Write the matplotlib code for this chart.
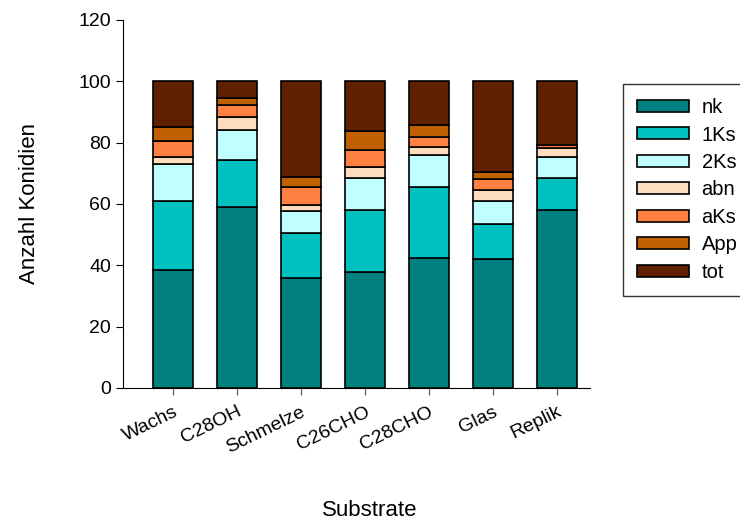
import matplotlib
matplotlib.use("Agg")
import matplotlib.pyplot as plt
import numpy as np

plt.rcParams['font.family'] = ['Liberation Sans', 'DejaVu Sans']

categories = ["Wachs", "C28OH", "Schmelze", "C26CHO", "C28CHO", "Glas", "Replik"]
series_names = ["nk", "1Ks", "2Ks", "abn", "aKs", "App", "tot"]
nk  = [38.6, 58.9, 35.9, 37.7, 42.5, 42.2, 57.9]
k1  = [22.5, 15.3, 14.8, 20.5, 22.9, 11.4, 10.5]
k2  = [11.8,  9.8,  7.0, 10.3, 10.7,  7.3,  6.9]
abn = [ 2.4,  4.4,  2.0,  3.6,  2.4,  3.8,  3.1]
aks = [ 5.4,  3.8,  6.0,  5.4,  3.2,  3.3,  0.7]
app = [ 4.4,  2.5,  3.0,  6.4,  4.0,  2.3,  0.3]
tot = [14.9,  5.3, 31.3, 16.1, 14.3, 29.7, 20.6]
colors = ["#008080", "#00C0C0", "#C0FFFF", "#FFDEC0", "#FF8040", "#C06000", "#602000"]

series = [nk, k1, k2, abn, aks, app, tot]

fig = plt.figure(figsize=(7.4, 5.2), dpi=100)
ax = fig.add_axes([123/740, 132/520, (590-123)/740, (388-20)/520])

x = np.arange(len(categories))
bottom = np.zeros(len(categories))
for name, vals, c in zip(series_names, series, colors):
    ax.bar(x, vals, width=0.62, bottom=bottom, color=c, edgecolor="black",
           linewidth=1.2, label=name)
    bottom += np.array(vals)

ax.set_xlim(-0.78, 6.52)
ax.set_ylim(0, 120)
ax.set_yticks(np.arange(0, 121, 20))
ax.set_xticks(x)
ax.set_xticklabels(categories, rotation=26, ha="right", rotation_mode="anchor", fontsize=14)
ax.tick_params(axis="y", labelsize=14, direction="out", length=5)
ax.tick_params(axis="x", direction="out", length=5, color="#555555", pad=6)
for s in ["top", "right"]:
    ax.spines[s].set_visible(False)
ax.set_ylabel("Anzahl Konidien", fontsize=16, labelpad=28)
fig.text(0.5, 1 - 510/520, "Substrate", ha="center", va="center", fontsize=16)

leg = fig.legend(loc="upper left", bbox_to_anchor=(623/740, 1 - 84/520), fontsize=14.5,
                 frameon=True, fancybox=False, edgecolor="black", borderaxespad=0,
                 handlelength=2.6, handleheight=0.55, labelspacing=0.42,
                 borderpad=0.7, handletextpad=0.6)
leg.get_frame().set_linewidth(1.0)

fig.savefig("out.png", dpi=100)
